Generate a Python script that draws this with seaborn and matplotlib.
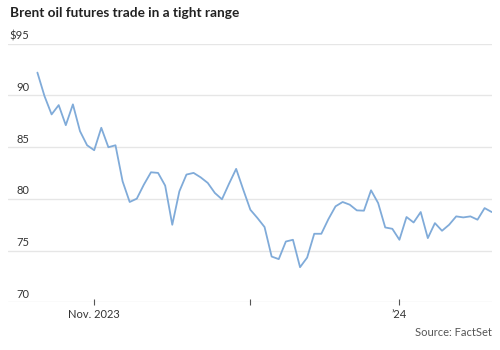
import matplotlib
matplotlib.use("Agg")
import matplotlib.pyplot as plt
import matplotlib.transforms as mtransforms
import numpy as np
import pandas as pd
import seaborn as sns

# Brent crude futures settlement, trading days from Oct. 20, 2023
start_date = "2023-10-20"
prices = [
    92.19, 89.92, 88.15, 89.05, 87.11, 89.12, 86.53, 85.17, 84.69, 86.86,
    84.98, 85.17, 81.69, 79.69, 80.01, 81.37, 82.56, 82.50, 81.27, 77.49,
    80.72, 82.34, 82.50, 82.07, 81.53, 80.56, 79.95, 81.46, 82.89, 80.88,
    78.94, 78.14, 77.27, 74.42, 74.17, 75.87, 76.04, 73.39, 74.32, 76.62,
    76.62, 78.04, 79.27, 79.69, 79.43, 78.88, 78.85, 80.82, 79.59, 77.23,
    77.10, 76.04, 78.24, 77.71, 78.72, 76.20, 77.65, 76.91, 77.49, 78.30,
    78.20, 78.30, 77.98, 79.10, 78.72,
]
month_ticks = ["2023-11-01", "2023-12-01", "2024-01-01"]
month_labels = ["Nov. 2023", "", "\u201924"]
y_ticks = [70, 75, 80, 85, 90, 95]
y_labels = ["70", "75", "80", "85", "90", "$95"]

title = "Brent oil futures trade in a tight range"
source = "Source: FactSet"

dates = pd.bdate_range(start_date, periods=len(prices))
df = pd.DataFrame({"day": np.arange(len(prices)), "price": prices, "date": dates})

sns.set_theme(style="white")
plt.rcParams["font.family"] = ["Lato", "DejaVu Sans"]

LINE = "#80abd9"
GRID = "#e6e6e6"
TEXT = "#333333"

fig = plt.figure(figsize=(5, 3.5), dpi=100)
ax = fig.add_axes([0.0166, 0.1363, 0.9668, 0.7394])

sns.lineplot(data=df, x="day", y="price", ax=ax, color=LINE, linewidth=1.3)

ax.set_xlim(-4.1, len(prices) - 1)
ax.set_ylim(70, 95)

# horizontal gridlines
for v in y_ticks:
    ax.axhline(v, color=GRID, linewidth=1.0, zorder=0)

# y labels sit above their gridlines
ax.set_yticks([])
label_tf = mtransforms.offset_copy(ax.get_yaxis_transform(), fig=fig, x=0, y=2.5, units="dots")
for v, lab in zip(y_ticks, y_labels):
    ax.text(0.044, v, lab, transform=label_tf, ha="right", va="bottom",
            fontsize=8, color=TEXT)

# monthly ticks on trading-day positions
tick_pos = [int(np.searchsorted(dates, pd.Timestamp(d))) for d in month_ticks]
ax.set_xticks(tick_pos)
ax.set_xticklabels(month_labels, fontsize=8, color=TEXT)
ax.tick_params(axis="x", direction="inout", length=4, width=0.8, color="#555555", pad=3, bottom=True)
ax.set_xlabel("")
ax.set_ylabel("")

for s in ax.spines.values():
    s.set_visible(False)

fig.text(10 / 500, 1 - 13 / 350, title, ha="left", va="center",
         fontsize=9.8, fontweight="bold", color="#222222")
fig.text(491.5 / 500, 1 - 332 / 350, source, ha="right", va="center",
         fontsize=8, color="#555555")

fig.savefig("out.png", dpi=100)
